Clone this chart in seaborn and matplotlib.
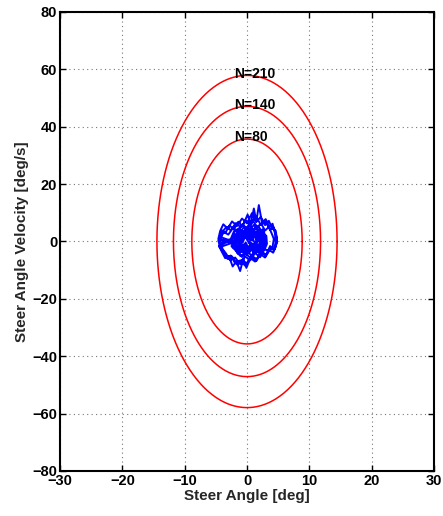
import numpy as np
import pandas as pd
import matplotlib
matplotlib.use("Agg")
import matplotlib.pyplot as plt
import seaborn as sns

# Stability boundaries: semi-axes (steer angle, steer velocity) per stiffness level
levels = ["N=80", "N=140", "N=210"]
semi_angle = [8.85, 11.8, 14.45]
semi_rate = [35.7, 47.1, 57.9]

# Measured trajectory: steer angle [deg]
traj_angle = [
    # A
    -4.3, -4.0, -3.3, -2.6, -1.8, -1.0, -0.2, 0.6, 1.4, 2.2, 3.0, 3.7, 4.3, 4.7, 4.8,
    4.4, 3.8, 3.1, 2.4, 1.6, 0.8, 0.0, -0.8, -1.6, -2.4, -3.1, -3.8, -4.3, -4.6,
    # S1
    -2.1, -1.6, -0.9, -0.2, 0.6, 1.4, 2.2, 2.7, 2.3, 1.5, 0.7, -0.1, -0.9, -1.6, -2.0,
    # S2
    -1.7, -1.1, -0.4, 0.3, 1.0, 1.8, 2.4, 2.5, 1.9, 1.2, 0.4, -0.4, -1.2, -1.8,
    # B
    -4.4, -4.1, -3.5, -2.8, -2.1, -1.4, -0.7, 0.1, 0.6, 1.1, 1.5, 1.9, 2.4, 3.0, 3.6, 4.1, 4.5, 4.6,
    4.3, 3.7, 3.0, 2.3, 1.5, 0.7, -0.1, -0.6, -1.1, -1.7, -2.3, -2.9, -3.5, -4.1, -4.5,
    # S3
    -2.4, -1.9, -1.2, -0.5, 0.3, 1.1, 1.9, 2.6, 3.0, 2.9, 2.3, 1.6, 0.8, 0.0, -0.8, -1.6, -2.3,
    # S4
    -1.4, -0.9, -0.2, 0.5, 1.2, 1.8, 2.1, 1.8, 1.1, 0.4, -0.3, -1.0, -1.4,
    # C
    -4.2, -3.7, -3.0, -2.3, -1.5, -0.7, 0.1, 0.9, 1.6, 2.3, 2.9, 3.5, 4.0, 4.3,
    4.1, 3.5, 2.8, 2.1, 1.3, 0.5, -0.3, -1.1, -1.9, -2.7, -3.4, -3.9, -4.2,
    # S5
    -2.6, -2.1, -1.3, -0.5, 0.3, 1.1, 1.9, 2.6, 3.1, 3.2, 2.8, 2.1, 1.3, 0.5, -0.3, -1.1, -1.9, -2.5,
    # S6
    -1.9, -1.3, -0.6, 0.1, 0.8, 1.5, 2.2, 2.6, 2.4, 1.7, 1.0, 0.2, -0.6, -1.3, -1.9,
    # D
    -4.6, -4.3, -3.8, -3.1, -2.4, -1.6, -0.8, 0.0, 0.8, 1.5, 2.2, 2.9, 3.5, 4.1, 4.6, 4.8,
    4.6, 4.2, 3.6, 2.9, 2.1, 1.3, 0.5, -0.3, -1.1, -1.9, -2.6, -3.3, -3.9, -4.4,
    # S7
    -1.1, -0.6, 0.1, 0.7, 1.3, 1.7, 1.4, 0.8, 0.2, -0.4, -0.9, -1.1,
    # S8
    -2.2, -1.7, -1.0, -0.2, 0.6, 1.4, 2.1, 2.8, 2.9, 2.5, 1.8, 1.0, 0.2, -0.6, -1.4, -2.0,
    # S9
    -1.5, -1.0, -0.6, -0.1, 0.4, 0.9, 1.4, 1.9, 2.3, 2.5, 2.1, 1.6, 1.1, 0.6, 0.1, -0.4, -0.9, -1.4,
    # S10
    -0.8, -0.4, 0.0, 0.4, 0.8, 1.2, 1.6, 1.9, 2.2, 1.8, 1.4, 1.0, 0.6, 0.2, -0.2, -0.6, -0.9,
    # S11
    -1.8, -1.2, -0.7, -0.2, 0.3, 0.8, 1.3, 1.8, 2.3, 2.6, 2.2, 1.5, 0.7, -0.1, -0.9, -1.6, -2.0,
    -1.5, -0.8, 0.0, 0.8, 1.6, 2.2,
]
# Measured trajectory: steer angle velocity [deg/s]
traj_rate = [
    # A
    0.0, 3.2, 5.1, 3.9, 6.4, 5.0, 7.3, 5.6, 8.8, 5.9, 6.8, 4.1, 4.9, 1.8, -0.5,
    -2.8, -2.1, -4.6, -3.8, -6.2, -5.1, -7.8, -6.4, -8.0, -5.2, -6.1, -3.6, -2.2, 0.4,
    # S1
    0.3, 3.1, 2.2, 4.4, 3.0, 4.9, 2.6, 0.4, -2.3, -3.8, -2.9, -4.6, -3.3, -3.9, -1.4,
    # S2
    1.1, 2.7, 1.8, 3.6, 2.3, 3.2, 1.0, -1.2, -2.8, -1.9, -3.5, -2.4, -3.0, -0.9,
    # B
    0.8, 4.0, 2.9, 5.6, 4.2, 6.9, 5.3, 9.4, 6.1, 11.5, 7.0, 12.7, 6.6, 7.8, 5.0, 6.2, 2.7, -0.2,
    -3.1, -1.6, -5.0, -3.2, -6.8, -4.9, -9.2, -6.0, -10.3, -6.9, -8.7, -5.1, -5.8, -3.3, -1.5,
    # S3
    0.6, 4.0, 2.9, 5.0, 3.4, 5.8, 3.5, 4.3, 1.2, -1.6, -3.5, -2.5, -4.9, -3.6, -5.4, -3.4, -2.0,
    # S4
    0.0, 2.0, 1.3, 2.8, 1.6, 2.2, 0.3, -1.9, -1.2, -2.7, -1.7, -2.4, -0.6,
    # C
    1.5, 3.3, 2.4, 4.6, 3.6, 5.9, 4.4, 7.4, 5.2, 6.1, 3.8, 5.1, 2.6, 0.9,
    -1.9, -3.4, -2.6, -5.5, -4.0, -6.6, -5.2, -7.9, -5.6, -6.5, -4.1, -2.7, -0.6,
    # S5
    0.9, 3.5, 4.6, 3.2, 5.9, 4.0, 5.1, 2.7, 2.0, -0.8, -2.9, -4.2, -3.1, -5.6, -4.1, -5.0, -2.8, -1.6,
    # S6
    -0.3, 2.4, 3.4, 2.1, 3.9, 2.7, 3.0, 0.8, -1.5, -3.1, -2.0, -3.9, -2.8, -3.2, -1.1,
    # D
    0.9, 3.7, 6.0, 4.5, 7.0, 5.4, 8.0, 6.3, 9.9, 6.8, 8.6, 5.7, 7.2, 4.4, 3.8, 1.0,
    -1.8, -3.9, -3.0, -5.6, -4.3, -7.0, -5.7, -8.4, -6.6, -7.6, -4.9, -5.4, -3.0, -2.0,
    # S7
    0.5, 1.7, 1.0, 2.4, 1.4, 0.2, -1.3, -0.7, -2.0, -1.1, -1.6, -0.3,
    # S8
    1.4, 2.6, 4.0, 2.7, 4.8, 3.3, 3.9, 1.6, -0.5, -2.4, -3.3, -2.2, -4.1, -3.0, -4.4, -2.2,
    # S9
    0.8, 3.5, 1.2, 4.1, 0.9, 3.8, 1.5, 4.2, 1.1, -0.9, -3.6, -1.0, -4.0, -1.3, -3.8, -0.8, -3.5, -1.2,
    # S10
    0.2, 2.9, 0.6, 3.3, 0.4, 2.6, -0.2, 2.0, -1.6, -3.2, -0.6, -3.0, -0.4, -2.8, -0.3, -2.6, -0.8,
    # S11
    0.0, 1.9, -0.4, 2.3, -0.6, 1.8, -0.9, 1.4, -1.2, 0.6, 2.9, 3.4, 1.2, 3.6, 1.0, 2.6, -0.5,
    -2.9, -1.5, -3.1, -1.8, -3.3, -2.1,
]

x_ticks = [-30, -20, -10, 0, 10, 20, 30]
y_ticks = [-80, -60, -40, -20, 0, 20, 40, 60, 80]

sns.set_theme(style="white")
plt.rcParams["font.family"] = ["Liberation Sans", "DejaVu Sans"]
plt.rcParams["font.weight"] = "bold"

fig = plt.figure(figsize=(4.43, 5.16), dpi=100)
ax = fig.add_axes([60 / 443, 1 - 471 / 516, 374 / 443, 459 / 516])

# Boundary ellipses
theta = np.linspace(0, 2 * np.pi, 400)
rows = []
for name, a, b in zip(levels, semi_angle, semi_rate):
    rows.append(pd.DataFrame({"angle": a * np.cos(theta), "rate": b * np.sin(theta), "level": name}))
ell = pd.concat(rows, ignore_index=True)
sns.lineplot(data=ell, x="angle", y="rate", units="level", estimator=None, sort=False,
             color="red", linewidth=1.1, ax=ax, legend=False)

# Trajectory
traj = pd.DataFrame({"angle": traj_angle, "rate": traj_rate})
sns.lineplot(data=traj, x="angle", y="rate", sort=False, estimator=None,
             color="blue", linewidth=1.4, ax=ax, legend=False)

for name, b in zip(levels, semi_rate):
    ax.text(-2.0, b + 0.6, name, ha="left", va="center", fontsize=10, fontweight="bold", color="black")

ax.set_xlim(-30, 30)
ax.set_ylim(-80, 80)
ax.set_xticks(x_ticks)
ax.set_yticks(y_ticks)
ax.set_xticklabels([str(t).replace("-", "\u2212") for t in x_ticks], fontsize=10.5, fontweight="bold")
ax.set_yticklabels([str(t).replace("-", "\u2212") for t in y_ticks], fontsize=10.5, fontweight="bold")
ax.tick_params(direction="in", length=4, width=1, top=True, right=True, bottom=True, left=True,
               pad=2, colors="black")
ax.grid(True, color="#777777", linestyle=(0, (1, 3)), linewidth=0.8)
for sp in ax.spines.values():
    sp.set_visible(True)
    sp.set_color("black")
    sp.set_linewidth(1.5)

ax.set_xlabel("Steer Angle [deg]", fontsize=11, fontweight="bold", labelpad=1)
ax.set_ylabel("Steer Angle Velocity [deg/s]", fontsize=11, fontweight="bold", labelpad=2)

fig.savefig("out.png", dpi=100, facecolor="white")
